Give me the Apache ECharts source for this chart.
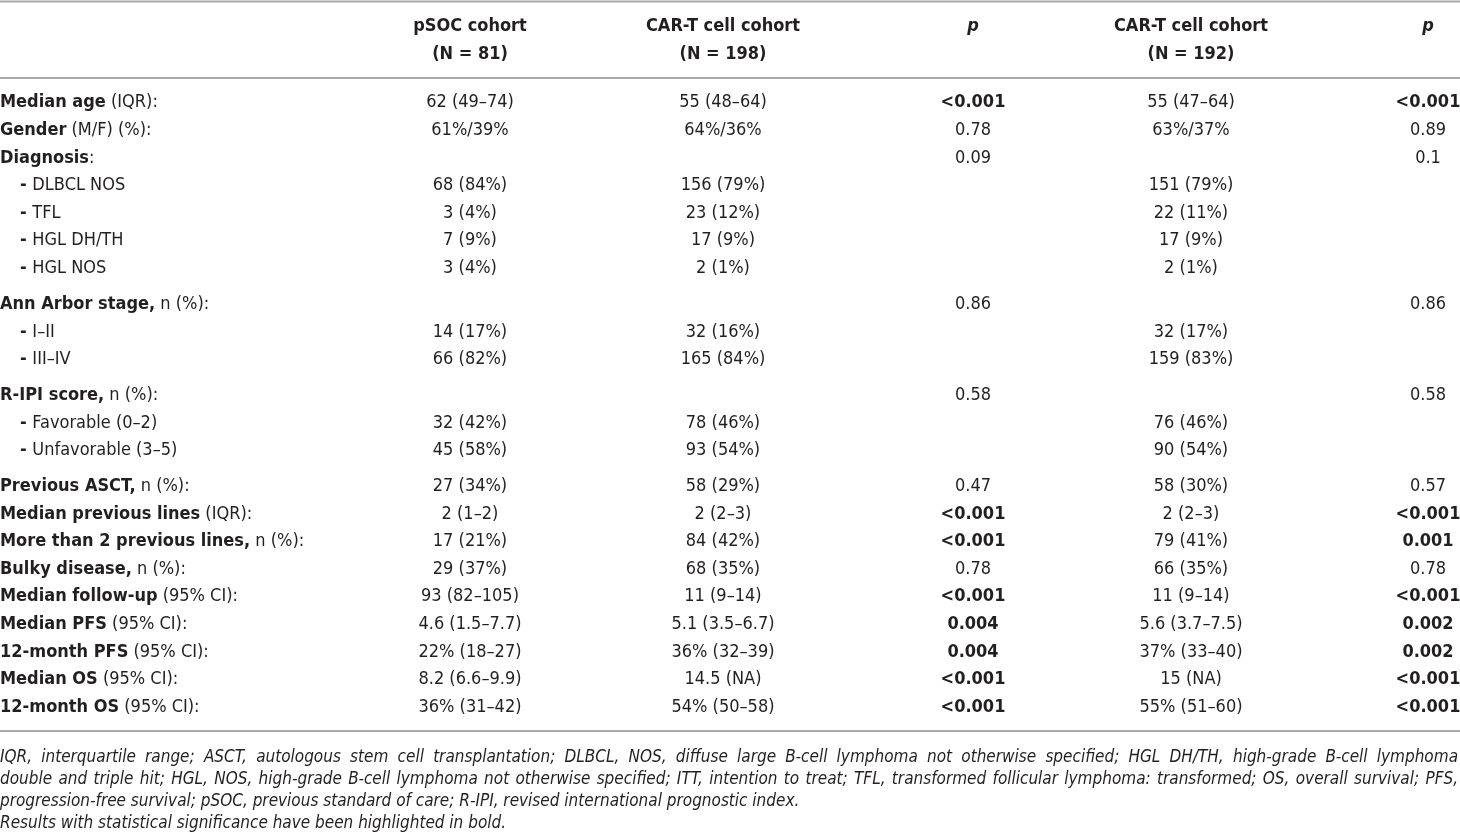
<!DOCTYPE html>
<html>
<head>
<meta charset="utf-8">
<title>pSOC vs CAR-T cohorts</title>
<script src="https://cdn.jsdelivr.net/npm/echarts@6/dist/echarts.min.js"></script>
<style>
  html, body { margin: 0; padding: 0; background: #fff; }
  #main { width: 1460px; height: 839px; }
</style>
</head>
<body>
<div id="main"></div>
<script>
// table content
const headers = [['pSOC cohort', '(N = 81)'], ['CAR-T cell cohort', '(N = 198)'], ['p', ''], ['CAR-T cell cohort', '(N = 192)'], ['p', '']];

const labelBold = ['Median age', 'Gender', 'Diagnosis', '- ', '- ', '- ', '- ',
  'Ann Arbor stage,', '- ', '- ', 'R-IPI score,', '- ', '- ',
  'Previous ASCT,', 'Median previous lines', 'More than 2 previous lines,', 'Bulky disease,',
  'Median follow-up', 'Median PFS', '12-month PFS', 'Median OS', '12-month OS'];
const labelRest = [' (IQR):', ' (M/F) (%):', ':', 'DLBCL NOS', 'TFL', 'HGL DH/TH', 'HGL NOS',
  ' n (%):', 'I–II', 'III–IV', ' n (%):', 'Favorable (0–2)', 'Unfavorable (3–5)',
  ' n (%):', ' (IQR):', ' n (%):', ' n (%):',
  ' (95% CI):', ' (95% CI):', ' (95% CI):', ' (95% CI):', ' (95% CI):'];

const psoc = ['62 (49–74)', '61%/39%', '', '68 (84%)', '3 (4%)', '7 (9%)', '3 (4%)',
  '', '14 (17%)', '66 (82%)', '', '32 (42%)', '45 (58%)',
  '27 (34%)', '2 (1–2)', '17 (21%)', '29 (37%)', '93 (82–105)', '4.6 (1.5–7.7)', '22% (18–27)', '8.2 (6.6–9.9)', '36% (31–42)'];
const cart198 = ['55 (48–64)', '64%/36%', '', '156 (79%)', '23 (12%)', '17 (9%)', '2 (1%)',
  '', '32 (16%)', '165 (84%)', '', '78 (46%)', '93 (54%)',
  '58 (29%)', '2 (2–3)', '84 (42%)', '68 (35%)', '11 (9–14)', '5.1 (3.5–6.7)', '36% (32–39)', '14.5 (NA)', '54% (50–58)'];
const p198 = ['<0.001', '0.78', '0.09', '', '', '', '',
  '0.86', '', '', '0.58', '', '',
  '0.47', '<0.001', '<0.001', '0.78', '<0.001', '0.004', '0.004', '<0.001', '<0.001'];
const cart192 = ['55 (47–64)', '63%/37%', '', '151 (79%)', '22 (11%)', '17 (9%)', '2 (1%)',
  '', '32 (17%)', '159 (83%)', '', '76 (46%)', '90 (54%)',
  '58 (30%)', '2 (2–3)', '79 (41%)', '66 (35%)', '11 (9–14)', '5.6 (3.7–7.5)', '37% (33–40)', '15 (NA)', '55% (51–60)'];
const p192 = ['<0.001', '0.89', '0.1', '', '', '', '',
  '0.86', '', '', '0.58', '', '',
  '0.57', '<0.001', '0.001', '0.78', '<0.001', '0.002', '0.002', '<0.001', '<0.001'];

// rows that open a new block get a bit of extra space above
const blockStarts = ['Ann Arbor stage,', 'R-IPI score,', 'Previous ASCT,'];

const footLines = [
  'IQR, interquartile range; ASCT, autologous stem cell transplantation; DLBCL, NOS, diffuse large B-cell lymphoma not otherwise specified; HGL DH/TH, high-grade B-cell lymphoma',
  'double and triple hit; HGL, NOS, high-grade B-cell lymphoma not otherwise specified; ITT, intention to treat; TFL, transformed follicular lymphoma: transformed; OS, overall survival; PFS,',
  'progression-free survival; pSOC, previous standard of care; R-IPI, revised international prognostic index.',
  'Results with statistical significance have been highlighted in bold.',
];

// layout
const FONT = '"DejaVu Sans Condensed", "Noto Sans", sans-serif';
const INK = '#231f20';
const RULE = '#a9a9a9';
const colX = [0, 470, 723, 973, 1191, 1428];
const W = 1460;

const isSig = (p) => p !== '' && parseFloat(p.replace('<', '')) < 0.05;

let gaps = 0;
const rows = labelBold.map((b, i) => {
  if (blockStarts.includes(b)) gaps += 1;
  return {
    value: [0, i + gaps * 0.3],
    cells: [psoc[i], cart198[i], p198[i], cart192[i], p192[i]],
    bold: b,
    rest: labelRest[i],
    indent: b === '- ',
  };
});

function renderRow(params, api) {
  const r = rows[params.dataIndex];
  const y = api.coord([0, r.value[1]])[1];
  const kids = [{
    type: 'text',
    x: api.coord([colX[0] + (r.indent ? 20 : 0), 0])[0],
    y,
    style: {
      text: '{b|' + r.bold + '}' + r.rest,
      font: '18px ' + FONT,
      fill: INK,
      verticalAlign: 'middle',
      rich: { b: { fontWeight: 'bold', fontSize: 18, fontFamily: FONT, fill: INK } },
    },
  }];
  r.cells.forEach((c, k) => {
    if (!c) return;
    const bold = (k === 2 || k === 4) && isSig(c);
    kids.push({
      type: 'text',
      x: api.coord([colX[k + 1], 0])[0],
      y,
      style: {
        text: c,
        font: (bold ? 'bold ' : '') + '18px ' + FONT,
        fill: INK,
        align: 'center',
        verticalAlign: 'middle',
      },
    });
  });
  return { type: 'group', children: kids };
}

// justified footnote words
const measureCtx = document.createElement('canvas').getContext('2d');
const FOOT_FONT = 'italic 17px ' + FONT;
measureCtx.font = FOOT_FONT;
const footGraphics = [];
footLines.forEach((line, li) => {
  const y = 758 + li * 22;
  const justify = li < 2;
  if (!justify) {
    footGraphics.push({ type: 'text', x: 0, y, style: { text: line, font: FOOT_FONT, fill: INK, verticalAlign: 'middle' } });
    return;
  }
  const words = line.split(' ');
  const total = words.reduce((s, w) => s + measureCtx.measureText(w).width, 0);
  const gap = Math.max(3, (W - 2 - total) / (words.length - 1));
  let x = 0;
  words.forEach((w) => {
    footGraphics.push({ type: 'text', x, y, style: { text: w, font: FOOT_FONT, fill: INK, verticalAlign: 'middle' } });
    x += measureCtx.measureText(w).width + gap;
  });
});

const headGraphics = [];
headers.forEach((h, k) => {
  const isP = h[0] === 'p';
  headGraphics.push({
    type: 'text', x: colX[k + 1], y: 26,
    style: { text: h[0], font: (isP ? 'italic bold ' : 'bold ') + '18px ' + FONT, fill: INK, align: 'center', verticalAlign: 'middle' },
  });
  if (h[1]) {
    headGraphics.push({
      type: 'text', x: colX[k + 1], y: 54,
      style: { text: h[1], font: 'bold 18px ' + FONT, fill: INK, align: 'center', verticalAlign: 'middle' },
    });
  }
});

const rules = [1.5, 78, 731].map((y) => ({
  type: 'line', shape: { x1: 0, y1: y, x2: W, y2: y }, style: { stroke: RULE, lineWidth: 2 },
}));

const chart = echarts.init(document.getElementById('main'));
chart.setOption({
  animation: false,
  grid: { left: 0, right: 0, top: 89, bottom: 118 },
  xAxis: { type: 'value', min: 0, max: W, show: false },
  yAxis: { type: 'value', min: -0.5, max: 22.4, inverse: true, show: false },
  graphic: [...rules, ...headGraphics, ...footGraphics],
  series: [{
    type: 'custom',
    renderItem: renderRow,
    data: rows.map((r) => r.value),
    silent: true,
  }],
});
</script>
</body>
</html>
